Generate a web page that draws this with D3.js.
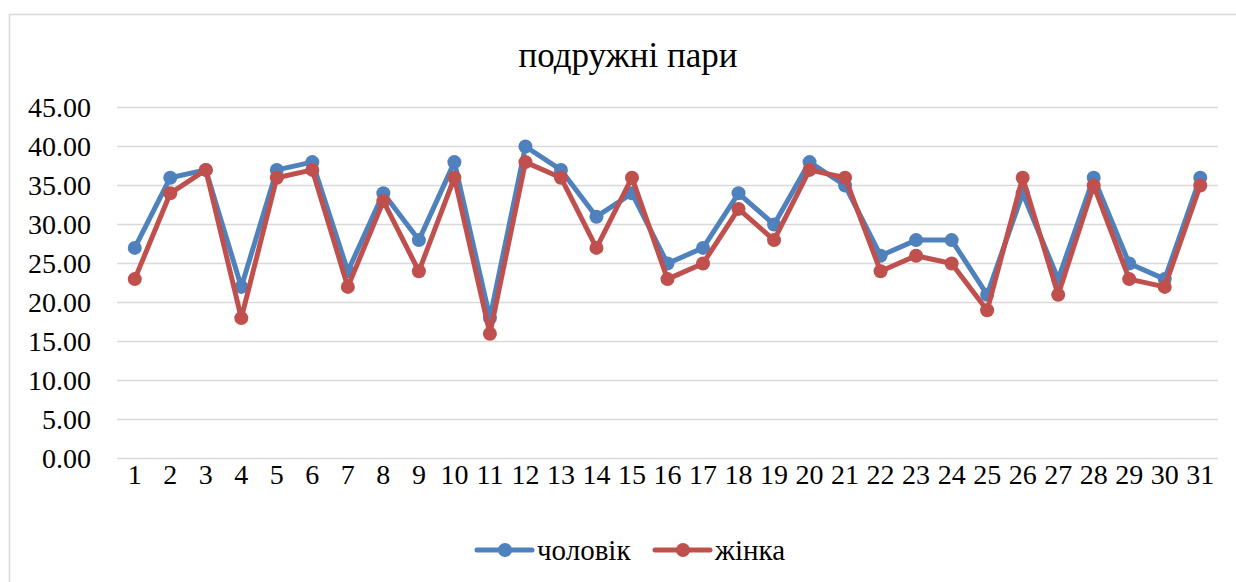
<!DOCTYPE html>
<html>
<head>
<meta charset="utf-8">
<script src="https://cdn.jsdelivr.net/npm/d3@7"></script>
<style>
  body { margin: 0; background: #fff; }
</style>
</head>
<body>
<svg id="chart" width="1236" height="582"></svg>
<script>
// data
var days = d3.range(1, 32);
var men = [27, 36, 37, 22, 37, 38, 24, 34, 28, 38, 18, 40, 37, 31, 34, 25, 27, 34, 30, 38, 35, 26, 28, 28, 21, 34, 23, 36, 25, 23, 36];
var women = [23, 34, 37, 18, 36, 37, 22, 33, 24, 36, 16, 38, 36, 27, 36, 23, 25, 32, 28, 37, 36, 24, 26, 25, 19, 36, 21, 35, 23, 22, 35];
var yTicks = [0, 5, 10, 15, 20, 25, 30, 35, 40, 45];
var seriesNames = ["чоловік", "жінка"];
var colors = ["#4f81bd", "#c0504d"];

var serif = "'Liberation Serif', 'Times New Roman', serif";
var svg = d3.select("#chart");

// outer chart border
svg.append("rect")
    .attr("x", 9.5).attr("y", 14.5)
    .attr("width", 1240).attr("height", 600)
    .style("fill", "none")
    .style("stroke", "#d9d9d9")
    .style("stroke-width", 1.5);

var plotLeft = 117, plotRight = 1218, plotTop = 107.5, plotBottom = 458.5;

var x = d3.scaleBand().domain(days).range([plotLeft, plotRight]);
var y = d3.scaleLinear().domain([0, 45]).range([plotBottom, plotTop]);

// gridlines
svg.append("g").selectAll("line")
    .data(yTicks)
    .join("line")
    .attr("x1", plotLeft).attr("x2", plotRight)
    .attr("y1", d => y(d)).attr("y2", d => y(d))
    .style("stroke", "#d9d9d9")
    .style("stroke-width", 1.5);

// y axis labels
var yAxis = d3.axisLeft(y).tickValues(yTicks).tickFormat(d3.format(".2f")).tickSize(0).tickPadding(26);
svg.append("g")
    .attr("transform", "translate(" + plotLeft + ",0)")
    .call(yAxis)
    .call(g => g.select(".domain").remove())
    .selectAll("text")
    .style("font-family", serif)
    .style("font-size", "28px")
    .style("fill", "#000");

// x axis labels
var xAxis = d3.axisBottom(x).tickSize(0).tickPadding(6);
svg.append("g")
    .attr("transform", "translate(0," + plotBottom + ")")
    .call(xAxis)
    .call(g => g.select(".domain").remove())
    .selectAll("text")
    .style("font-family", serif)
    .style("font-size", "28px")
    .style("fill", "#000");

// title
svg.append("text")
    .attr("x", 628).attr("y", 67)
    .attr("text-anchor", "middle")
    .style("font-family", serif)
    .style("font-size", "35px")
    .text("подружні пари");

// series
var series = [men, women];
var line = d3.line()
    .x((d, i) => x(days[i]) + x.bandwidth() / 2)
    .y(d => y(d));

series.forEach(function(vals, k) {
  var g = svg.append("g");
  g.append("path")
      .datum(vals)
      .attr("d", line)
      .style("fill", "none")
      .style("stroke", colors[k])
      .style("stroke-width", 5)
      .style("stroke-linejoin", "round");
  g.selectAll("circle")
      .data(vals)
      .join("circle")
      .attr("cx", (d, i) => x(days[i]) + x.bandwidth() / 2)
      .attr("cy", d => y(d))
      .attr("r", 7)
      .style("fill", colors[k]);
});

// legend
var legendX = [477, 655];
seriesNames.forEach(function(name, k) {
  var lg = svg.append("g").attr("transform", "translate(" + legendX[k] + ",550)");
  lg.append("line")
      .attr("x1", 0).attr("x2", 55)
      .style("stroke", colors[k])
      .style("stroke-width", 5)
      .style("stroke-linecap", "round");
  lg.append("circle")
      .attr("cx", 28).attr("r", 7)
      .style("fill", colors[k]);
  lg.append("text")
      .attr("x", 60).attr("y", 10)
      .style("font-family", serif)
      .style("font-size", "29px")
      .text(name);
});
</script>
</body>
</html>
